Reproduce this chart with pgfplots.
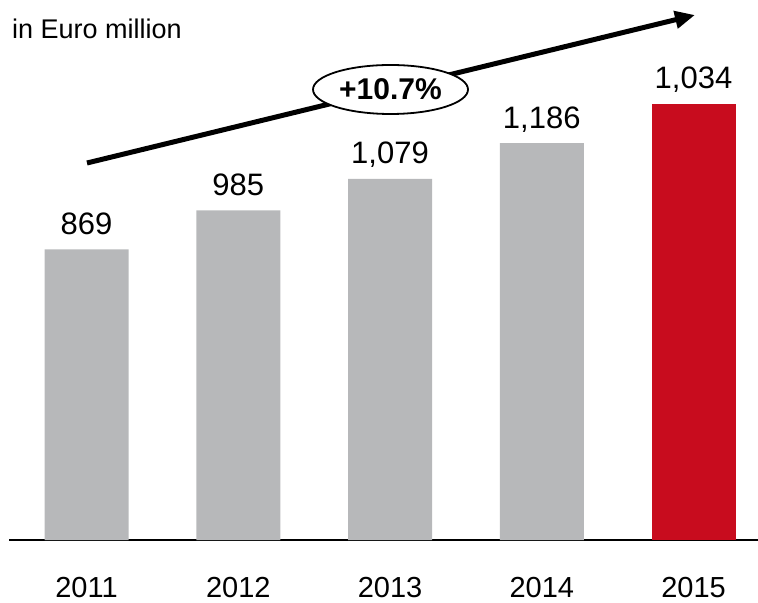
\documentclass[border=0pt]{standalone}
\usepackage{fontspec}
\setmainfont{Liberation Sans}
\usepackage{pgfplots}
\pgfplotsset{compat=1.18}
\usetikzlibrary{arrows.meta,shapes.geometric}
\definecolor{bargray}{RGB}{183,184,186}
\definecolor{barred}{RGB}{200,12,30}
\begin{document}
\begin{tikzpicture}
\useasboundingbox (-9bp,-63bp) rectangle (749bp,540bp);
\begin{axis}[
  at={(0,0)}, anchor=south west,
  scale only axis,
  width=749bp, height=540bp,
  xmin=-0.511, xmax=4.425,
  ymin=0, ymax=1614,
  axis x line=bottom,
  x axis line style={-, line width=2bp, black},
  hide y axis,
  xtick={0,1,2,3,4},
  xticklabels={2011,2012,2013,2014,2015},
  major tick length=0pt,
  tick style={draw=none},
  xticklabel style={anchor=base, yshift=-57bp, inner sep=0pt, font=\fontsize{29bp}{33bp}\selectfont},
  ybar, bar width=84bp, bar shift=0pt,
  point meta=explicit symbolic,
  nodes near coords,
  every node near coord/.append style={anchor=base, yshift=15bp, inner sep=0pt, font=\fontsize{31bp}{35bp}\selectfont, text=black},
  clip=false,
]
\addplot[fill=bargray, draw=none] coordinates {(0,869)[869] (1,985)[985] (2,1079)[1,079] (3,1186)[1,186]};
\addplot[fill=barred, draw=none] coordinates {(4,1304)[1,034]};
\end{axis}
\draw[line width=5bp, -{Triangle[length=20bp,width=17bp]}] (78bp,377bp) -- (686bp,525bp);
\node[draw, line width=1.8bp, fill=white, ellipse, minimum width=155bp, minimum height=49bp, inner sep=0pt, font=\bfseries\fontsize{30bp}{34bp}\selectfont] at (381.5bp,450.5bp) {+10.7\%};
\node[anchor=base west, inner sep=0pt, font=\fontsize{27bp}{31bp}\selectfont] at (3bp,501bp) {in Euro million};
\end{tikzpicture}
\end{document}
